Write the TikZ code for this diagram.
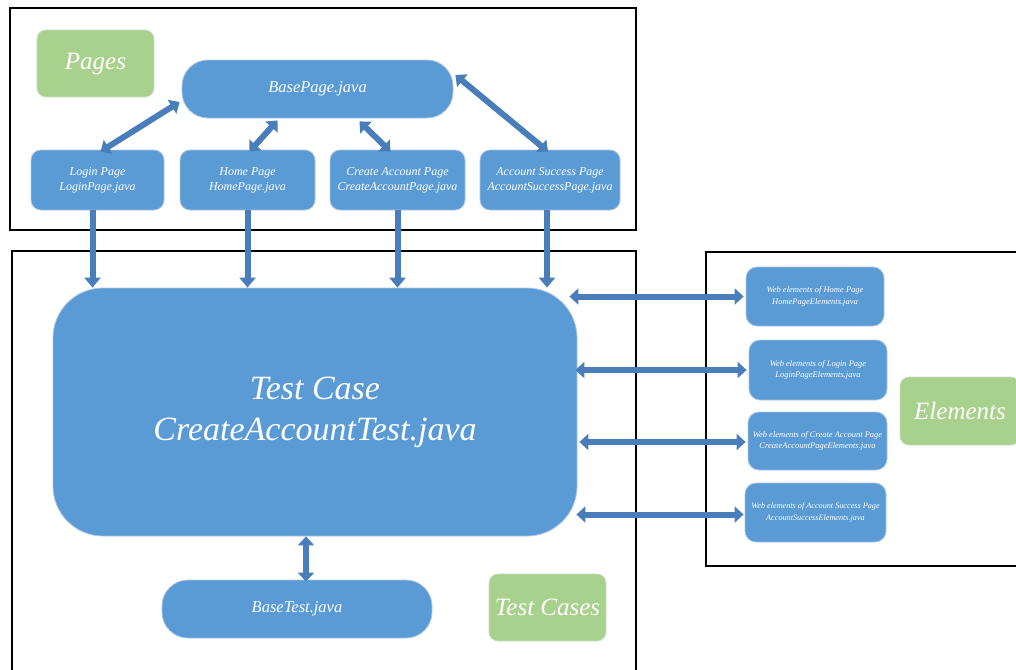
\documentclass[tikz,border=0pt]{standalone}
\usepackage{fontspec}
\setmainfont{Liberation Serif}
\usetikzlibrary{arrows.meta}
\definecolor{boxblue}{HTML}{5B9BD5}
\definecolor{boxedge}{HTML}{A9C4E4}
\definecolor{boxgreen}{HTML}{A9D18E}
\definecolor{greenedge}{HTML}{C9DFC0}
\definecolor{arrblue}{HTML}{4A7EBB}
\tikzset{
  bluebox/.style={draw=boxedge, fill=boxblue, line width=0.8pt, text=white, font=\itshape, align=center, inner sep=1pt},
  greenbox/.style={draw=greenedge, fill=boxgreen, line width=0.8pt, text=white, font=\itshape\fontsize{25}{28}\selectfont, rounded corners=9pt, minimum width=117pt, minimum height=67pt, inner sep=0pt},
  frame/.style={draw=black, line width=2.6pt},
  fatdouble/.style={draw=arrblue, line width=6pt, {Triangle[width=16pt,length=9pt]}-{Triangle[width=16pt,length=9pt]}},
  fatsingle/.style={draw=arrblue, line width=6pt, -{Triangle[width=16pt,length=10pt]}},
  pagefont/.style={font=\itshape\fontsize{12}{15}\selectfont},
  elfont/.style={font=\itshape\fontsize{8.5}{11.5}\selectfont},
}
\begin{document}
\begin{tikzpicture}[x=1pt,y=-1pt]
\useasboundingbox (0,0) rectangle (1016,669);
\begin{scope}
\clip (0,0) rectangle (1016,669);
% frames
\draw[frame] (10,8) rectangle (636,230);
\draw[frame] (12,251) rectangle (636,690);
\draw[frame] (706,252) rectangle (1040,566);

% pages
\node[greenbox] (pages) at (95.5,63.5) {Pages};
\node[bluebox, rounded corners=26pt, minimum width=271pt, minimum height=58pt, font=\itshape\fontsize{16.5}{19}\selectfont] (base) at (317.5,89) {BasePage.java};
\node[bluebox, rounded corners=10pt, minimum width=133pt, minimum height=60pt, pagefont] (login) at (97.5,180) {Login Page\\LoginPage.java};
\node[bluebox, rounded corners=10pt, minimum width=135pt, minimum height=60pt, pagefont] (home) at (247.5,180) {Home Page\\HomePage.java};
\node[bluebox, rounded corners=10pt, minimum width=135pt, minimum height=60pt, pagefont] (create) at (397.5,180) {Create Account Page\\CreateAccountPage.java};
\node[bluebox, rounded corners=10pt, minimum width=140pt, minimum height=60pt, pagefont] (succ) at (550,180) {Account Success Page\\AccountSuccessPage.java};

% test case
\node[bluebox, rounded corners=50pt, minimum width=524pt, minimum height=248pt, font=\itshape\fontsize{34}{41}\selectfont] (tc) at (315,412) {Test Case\\CreateAccountTest.java};
\node[bluebox, rounded corners=26pt, minimum width=270pt, minimum height=58pt, font=\itshape\fontsize{16.5}{19}\selectfont] (bt) at (297,609) {BaseTest.java};
\node[greenbox] (tcases) at (547.5,607.5) {Test Cases};

% elements
\node[bluebox, rounded corners=11pt, minimum width=138pt, minimum height=59pt, elfont] (homeel) at (815,296.5) {Web elements of Home Page\\HomePageElements.java};
\node[bluebox, rounded corners=11pt, minimum width=138pt, minimum height=60pt, elfont] (loginel) at (818,370) {Web elements of Login Page\\LoginPageElements.java};
\node[bluebox, rounded corners=11pt, minimum width=139pt, minimum height=58pt, elfont] (createel) at (817.5,441) {Web elements of Create Account Page\\CreateAccountPageElements.java};
\node[bluebox, rounded corners=11pt, minimum width=141pt, minimum height=59pt, font=\itshape\fontsize{8.2}{11.5}\selectfont] (succel) at (815.5,512.5) {Web elements of Account Success Page\\AccountSuccessElements.java};
\node[greenbox, minimum width=120pt, minimum height=68pt] (elems) at (960,411) {Elements};

% connectors: base page <-> pages
\draw[fatdouble] ([xshift=3pt,yshift=-2pt]login.north) -- ([xshift=-2pt,yshift=-13pt]base.west);
\draw[fatdouble] ([xshift=2pt,yshift=-2pt]home.north) -- ([xshift=-40pt,yshift=-2pt]base.south);
\draw[fatdouble] ([xshift=-7pt,yshift=-2pt]create.north) -- ([xshift=42pt,yshift=-3pt]base.south);
\draw[fatdouble] ([xshift=-2pt,yshift=-2pt]succ.north) -- ([xshift=2pt,yshift=14pt]base.east);

% pages -> test case
\draw[fatsingle] ([xshift=-5pt]login.south) -- ([xshift=-5pt]login.south |- tc.north);
\draw[fatsingle] (home.south) -- (home.south |- tc.north);
\draw[fatsingle] (create.south) -- (create.south |- tc.north);
\draw[fatsingle] ([xshift=-3pt]succ.south) -- ([xshift=-3pt]succ.south |- tc.north);

% test case <-> elements
\draw[fatdouble] ([xshift=-2pt]homeel.west) -- ([xshift=-8pt]homeel.west -| tc.east);
\draw[fatdouble] ([xshift=-2pt]loginel.west) -- ([xshift=-2pt]loginel.west -| tc.east);
\draw[fatdouble] ([xshift=-2pt,yshift=-1pt]createel.west) -- ([xshift=2pt,yshift=-1pt]createel.west -| tc.east);
\draw[fatdouble] ([xshift=-1pt,yshift=-2pt]succel.west) -- ([xshift=-1pt,yshift=-2pt]succel.west -| tc.east);

% test case <-> base test
\draw[fatdouble] ([xshift=9pt,yshift=-2pt]bt.north) -- ([xshift=9pt]bt.north |- tc.south);
\end{scope}
\end{tikzpicture}
\end{document}
